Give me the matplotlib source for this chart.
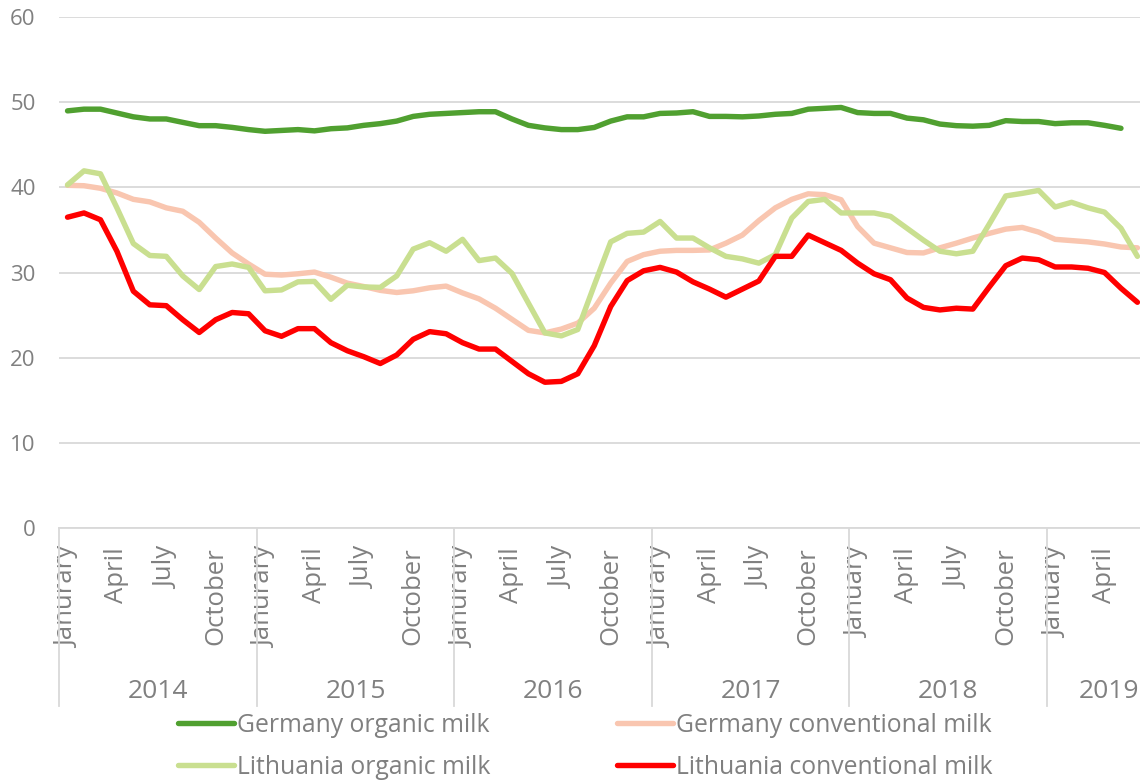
import matplotlib
matplotlib.use("Agg")
import matplotlib.pyplot as plt
import numpy as np
from matplotlib.transforms import blended_transform_factory

plt.rcParams["font.family"] = ["Open Sans", "DejaVu Sans"]

# ---- data: monthly milk prices, Jan 2014 - Jun 2019 ----
years = [2014, 2015, 2016, 2017, 2018, 2019]
year_slots = [12, 12, 12, 12, 12, 8]          # category slots per year on the axis
shown_month_idx = [0, 3, 6, 9]                 # Jan, Apr, Jul, Oct
shown_month_names = ["January", "April", "July", "October"]
january_label = ["Janurary", "Janurary", "Janurary", "Janurary", "January", "January"]

germany_organic = [
    49.0, 49.2, 49.2, 48.75, 48.3, 48.05, 48.05, 47.65, 47.26, 47.26, 47.06, 46.8,
    46.6, 46.7, 46.8, 46.65, 46.9, 47.0, 47.3, 47.5, 47.8, 48.35, 48.6, 48.7,
    48.8, 48.9, 48.9, 48.05, 47.3, 47.0, 46.8, 46.8, 47.05, 47.8, 48.3, 48.3,
    48.7, 48.75, 48.9, 48.35, 48.35, 48.3, 48.4, 48.6, 48.7, 49.2, 49.3, 49.4,
    48.8, 48.7, 48.7, 48.15, 47.95, 47.45, 47.26, 47.2, 47.3, 47.85, 47.75, 47.75,
    47.5, 47.6, 47.6, 47.3, 46.95, np.nan,
]
germany_conventional = [
    40.25, 40.2, 39.9, 39.35, 38.6, 38.3, 37.6, 37.2, 35.9, 34.05, 32.3, 31.0,
    29.8, 29.7, 29.85, 30.05, 29.45, 28.75, 28.35, 27.9, 27.65, 27.85, 28.2, 28.4,
    27.6, 26.9, 25.8, 24.5, 23.2, 22.9, 23.35, 24.05, 25.8, 28.75, 31.3, 32.1,
    32.5, 32.6, 32.6, 32.65, 33.45, 34.4, 36.1, 37.6, 38.6, 39.25, 39.15, 38.55,
    35.4, 33.45, 32.9, 32.35, 32.3, 32.9, 33.45, 34.05, 34.6, 35.1, 35.3, 34.75,
    33.9, 33.75, 33.6, 33.35, 33.0, 32.9,
]
lithuania_organic = [
    40.3, 41.95, 41.6, 37.6, 33.4, 32.0, 31.9, 29.6, 28.0, 30.7, 31.0, 30.6,
    27.85, 27.95, 28.9, 28.95, 26.85, 28.5, 28.3, 28.25, 29.6, 32.75, 33.5, 32.5,
    33.9, 31.4, 31.7, 29.9, 26.4, 22.9, 22.55, 23.3, 28.5, 33.6, 34.6, 34.75,
    36.0, 34.05, 34.05, 32.9, 31.9, 31.6, 31.1, 32.1, 36.4, 38.35, 38.6, 37.0,
    37.0, 37.0, 36.6, 35.2, 33.8, 32.5, 32.2, 32.5, 35.7, 39.0, 39.3, 39.65,
    37.7, 38.25, 37.6, 37.1, 35.2, 31.9,
]
lithuania_conventional = [
    36.5, 37.0, 36.2, 32.5, 27.8, 26.2, 26.1, 24.45, 22.95, 24.45, 25.3, 25.15,
    23.15, 22.5, 23.4, 23.4, 21.75, 20.8, 20.1, 19.3, 20.3, 22.15, 23.05, 22.8,
    21.75, 21.0, 21.0, 19.55, 18.1, 17.1, 17.2, 18.1, 21.4, 26.0, 29.05, 30.2,
    30.6, 30.05, 28.9, 28.05, 27.1, 28.05, 29.0, 31.9, 31.9, 34.4, 33.5, 32.6,
    31.1, 29.85, 29.15, 27.0, 25.9, 25.6, 25.8, 25.7, 28.3, 30.8, 31.7, 31.5,
    30.65, 30.65, 30.5, 30.0, 28.15, 26.5,
]

series_names = ["Germany organic milk", "Germany conventional milk",
                "Lithuania organic milk", "Lithuania conventional milk"]
series_values = [germany_organic, germany_conventional,
                 lithuania_organic, lithuania_conventional]
series_colors = ["#50a030", "#f9c6b0", "#c9df90", "#ff0000"]

TEXT = "#808080"
GRID = "#d9d9d9"

W, H = 1140, 783
fig = plt.figure(figsize=(W / 100, H / 100), dpi=100)

n_slots = sum(year_slots)
left_px, right_px = 59.3, 59.3 + n_slots * 16.46
top_px, bottom_px = 17.3, 527.7
ax = fig.add_axes([left_px / W, 1 - bottom_px / H,
                   (right_px - left_px) / W, (bottom_px - top_px) / H])

x = np.arange(len(lithuania_organic))
lines = []
for name, vals, col in zip(series_names, series_values, series_colors):
    ln, = ax.plot(x, vals, color=col, lw=3.9, label=name,
                  solid_joinstyle="round", solid_capstyle="round")
    lines.append(ln)

ax.set_xlim(-0.5, n_slots - 0.5)
ax.set_ylim(0, 60)
ax.set_yticks(range(0, 61, 10))
ax.yaxis.grid(True, color=GRID, lw=1.3)
ax.set_axisbelow(True)
for s in ["top", "right", "left"]:
    ax.spines[s].set_visible(False)
ax.spines["bottom"].set_color(GRID)
ax.spines["bottom"].set_linewidth(1.3)
ax.tick_params(axis="y", length=0, pad=17, labelsize=16, labelcolor=TEXT)

# month tick labels (Jan/Apr/Jul/Oct of each year)
tick_pos, tick_lab = [], []
start = 0
for yi, (yr, slots) in enumerate(zip(years, year_slots)):
    for mi, mname in zip(shown_month_idx, shown_month_names):
        pos = start + mi
        if pos < len(x):
            tick_pos.append(pos)
            tick_lab.append(january_label[yi] if mi == 0 else mname)
    start += slots
ax.set_xticks(tick_pos)
ax.set_xticklabels(tick_lab, rotation=90, ha="center", va="top")
ax.tick_params(axis="x", length=0, pad=14, labelsize=18.5, labelcolor=TEXT)

# year group separators and labels
trans = blended_transform_factory(ax.transData, ax.transAxes)
axes_h = bottom_px - top_px
sep_bottom = -(706 - bottom_px) / axes_h
year_base = -(698 - bottom_px) / axes_h
start = 0
for yi, (yr, slots) in enumerate(zip(years, year_slots)):
    ax.plot([start - 0.5, start - 0.5], [0, sep_bottom], transform=trans,
            color=GRID, lw=1.3, clip_on=False)
    # keep the last year's label inside the figure edge
    dx = -2.5 if yi == len(years) - 1 else 0
    ax.annotate(str(yr), (start - 0.5 + slots / 2, year_base), xycoords=trans,
                xytext=(dx, 0), textcoords="offset points",
                ha="center", va="baseline", fontsize=19, color=TEXT)
    start += slots
ax.plot([start - 0.5, start - 0.5], [0, sep_bottom], transform=trans,
        color=GRID, lw=1.3, clip_on=False)

order = [0, 2, 1, 3]
fig.legend([lines[i] for i in order], [series_names[i] for i in order],
           loc="upper left", bbox_to_anchor=(178 / W, 1 - 713 / H),
           ncol=2, frameon=False, fontsize=17.8, labelcolor=TEXT,
           handlelength=2.25, handletextpad=0.12, columnspacing=5.15,
           labelspacing=0.68, borderpad=0, borderaxespad=0)

fig.savefig("out.png", dpi=100)
